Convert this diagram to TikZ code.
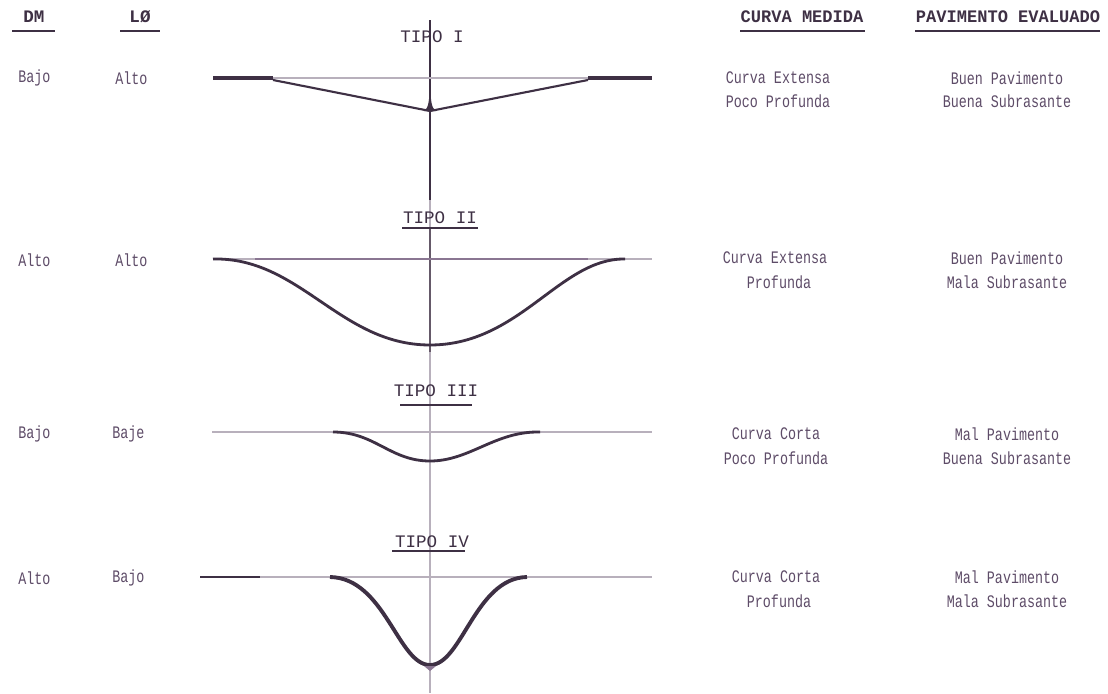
\documentclass[tikz,border=0pt]{standalone}
\usepackage{fontspec}
\usepackage{graphicx}
\setmonofont{Liberation Mono}
\definecolor{ink}{HTML}{3E3044}
\definecolor{txt}{HTML}{5E4C68}
\definecolor{lite}{HTML}{B8B0BC}
\definecolor{mid}{HTML}{8A7692}
\newcommand{\cond}[1]{\scalebox{0.76}[1]{#1}}
\tikzset{
  body/.style={font=\ttfamily\fontsize{10}{12}\selectfont, text=txt, inner sep=0pt},
  head/.style={font=\ttfamily\bfseries\fontsize{10}{12}\selectfont, text=ink, inner sep=0pt},
  tipo/.style={font=\ttfamily\fontsize{10}{12}\selectfont, text=ink, inner sep=0pt},
  uline/.style={draw=ink, line width=1.2pt},
  base/.style={draw=lite, line width=0.8pt},
  curve/.style={draw=ink, line width=1.6pt},
  axis/.style={draw=lite, line width=0.8pt}
}
\begin{document}
\begin{tikzpicture}[x=0.02cm,y=-0.02cm]
\useasboundingbox[fill=white] (0,0) rectangle (1108,693);

% headers
\node[head] (hdm) at (34,17) {DM};
\draw[uline] (12,31) -- (55,31);
\node[head] (hlo) at (140,17) {LØ};
\draw[uline] (120,31) -- (160,31);
\node[head] (hcm) at (802,17) {\scalebox{0.97}[1]{CURVA MEDIDA}};
\draw[uline] (740,31) -- (865,31);
\node[head] (hpe) at (1008,17) {\scalebox{0.97}[1]{PAVIMENTO EVALUADO}};
\draw[uline] (915,31) -- (1100,31);

% vertical axis
\draw[axis] (430,200) -- (430,693);
\draw[draw=ink, line width=1.2pt] (430,20) -- (430,200);
\draw[draw=ink!80, line width=0.9pt] (430,228) -- (430,352);

% ---------- TIPO I ----------
\node[tipo] (t1) at (432,37) {TIPO I};
\draw[base] (213,78) -- (652,78);
\draw[draw=ink, line width=2pt] (213,78) -- (273,78);
\draw[draw=ink, line width=2pt] (588,78) -- (652,78);
\draw[draw=ink, line width=1.2pt] (273,80) -- (430,111) -- (588,80);
\fill[ink] (424,111) .. controls (429,108) and (429,100) .. (430,86) .. controls (431,100) and (431,108) .. (436,111) -- cycle;
\node[body, anchor=west] (r1a) at (18,78) {\cond{Bajo}};
\node[body, anchor=west] (r1b) at (115,78) {\cond{Alto}};
\node[body] (r1c) at (778,78) {\cond{Curva Extensa}};
\node[body] (r1d) at (778,101) {\cond{Poco Profunda}};
\node[body] (r1e) at (1007,78) {\cond{Buen Pavimento}};
\node[body] (r1f) at (1007,101) {\cond{Buena Subrasante}};

% ---------- TIPO II ----------
\node[tipo] (t2) at (440,218) {TIPO II};
\draw[uline] (402,228) -- (478,228);
\draw[base] (213,259) -- (652,259);
\draw[draw=mid, line width=1.2pt] (255,259) -- (588,259);
\draw[curve] (213,259) .. controls (300,257) and (340,345) .. (430,345) .. controls (520,345) and (560,258) .. (625,259);
\node[body, anchor=west] (r2a) at (18,260) {\cond{Alto}};
\node[body, anchor=west] (r2b) at (115,260) {\cond{Alto}};
\node[body] (r2c) at (775,258) {\cond{Curva Extensa}};
\node[body] (r2d) at (779,282) {\cond{Profunda}};
\node[body] (r2e) at (1007,258) {\cond{Buen Pavimento}};
\node[body] (r2f) at (1007,282) {\cond{Mala Subrasante}};

% ---------- TIPO III ----------
\node[tipo] (t3) at (436,391) {TIPO III};
\draw[uline] (400,405) -- (472,405);
\draw[base] (212,432) -- (652,432);
\draw[curve] (333,432) .. controls (375,432) and (390,461) .. (430,461) .. controls (470,461) and (495,431) .. (540,432);
\node[body, anchor=west] (r3a) at (18,434) {\cond{Bajo}};
\node[body, anchor=west] (r3b) at (112,434) {\cond{Baje}};
\node[body] (r3c) at (776,434) {\cond{Curva Corta}};
\node[body] (r3d) at (776,458) {\cond{Poco Profunda}};
\node[body] (r3e) at (1007,434) {\cond{Mal Pavimento}};
\node[body] (r3f) at (1007,458) {\cond{Buena Subrasante}};

% ---------- TIPO IV ----------
\node[tipo] (t4) at (432,542) {TIPO IV};
\draw[uline] (392,551) -- (465,551);
\draw[base] (200,577) -- (652,577);
\draw[draw=ink, line width=1.2pt] (200,577) -- (260,577);
\draw[draw=ink, line width=2.2pt] (330,577) .. controls (385,578) and (398,665) .. (430,665) .. controls (462,665) and (475,578) .. (527,577);
\fill[mid] (424,666) -- (436,666) -- (430,671) -- cycle;
\node[body, anchor=west] (r4a) at (18,578) {\cond{Alto}};
\node[body, anchor=west] (r4b) at (112,578) {\cond{Bajo}};
\node[body] (r4c) at (776,577) {\cond{Curva Corta}};
\node[body] (r4d) at (779,601) {\cond{Profunda}};
\node[body] (r4e) at (1007,577) {\cond{Mal Pavimento}};
\node[body] (r4f) at (1007,601) {\cond{Mala Subrasante}};
\end{tikzpicture}
\end{document}
